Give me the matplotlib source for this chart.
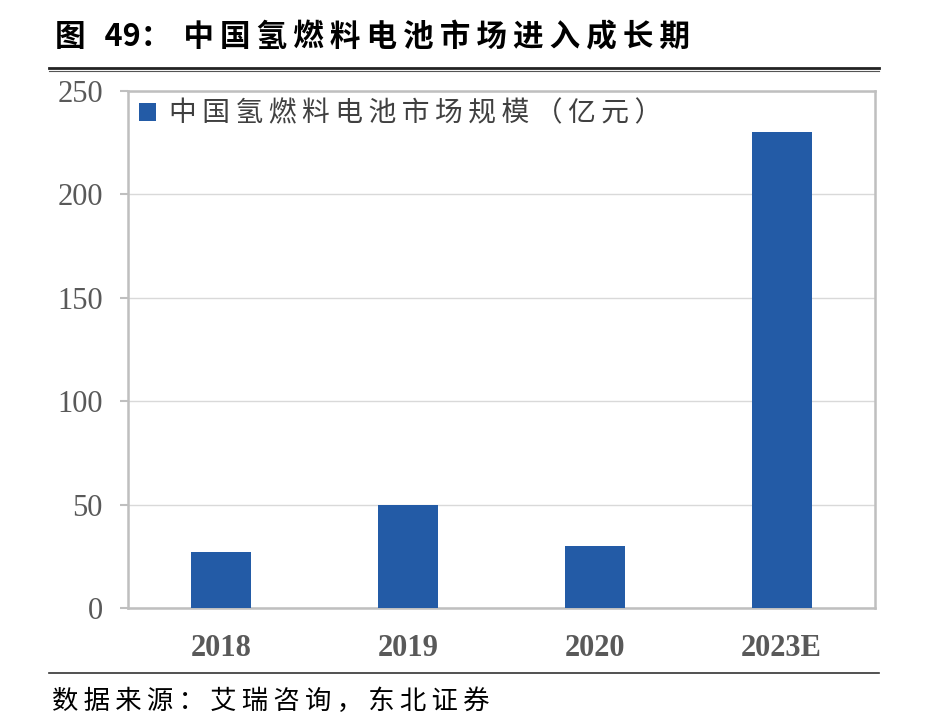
import matplotlib
matplotlib.use("Agg")
import matplotlib.pyplot as plt
from matplotlib.font_manager import FontProperties
from matplotlib.lines import Line2D

# ======================
# Data
# ======================
years = ["2018", "2019", "2020", "2023E"]
market_size = [27, 50, 30, 230]
y_ticks = [0, 50, 100, 150, 200, 250]

title_prefix = "图"
title_number = "49："
title_body = "中国氢燃料电池市场进入成长期"
legend_text = "中国氢燃料电池市场规模（亿元）"
source_text = "数据来源：艾瑞咨询，东北证券"

BAR_COLOR = "#235BA6"
FRAME_COLOR = "#BFBFBF"
GRID_COLOR = "#D9D9D9"
TICK_TEXT = "#595959"

CJK = ["Noto Sans CJK SC", "DejaVu Sans"]
THIN = "\u2009"


def spaced(s):
    # letter spacing like the original report
    return THIN.join(s)


# ======================
# Figure
# ======================
fig = plt.figure(figsize=(9.38, 7.24), dpi=100)
ax = fig.add_axes([128 / 938, 1 - 608 / 724, (875 - 128) / 938, (608 - 91) / 724])

x = range(len(years))
ax.bar(x, market_size, width=0.32, color=BAR_COLOR, zorder=3,
       label=spaced(legend_text))

ax.set_xlim(-0.5, len(years) - 0.5)
ax.set_ylim(0, 250)
ax.set_yticks(y_ticks)
ax.set_xticks(list(x))
ax.set_xticklabels(years)

ax.grid(axis="y", color=GRID_COLOR, linewidth=1.0, zorder=0)

for side in ["left", "right", "top", "bottom"]:
    ax.spines[side].set_color(FRAME_COLOR)
    ax.spines[side].set_linewidth(1.8)

ax.tick_params(axis="y", direction="out", length=6, width=1.5,
               color=FRAME_COLOR, pad=12, labelcolor=TICK_TEXT)
ax.tick_params(axis="x", length=0, pad=19, labelcolor=TICK_TEXT)

for lab in ax.get_yticklabels():
    lab.set_fontfamily("Liberation Serif")
    lab.set_fontsize(22)
for lab in ax.get_xticklabels():
    lab.set_fontfamily("Liberation Serif")
    lab.set_fontweight("bold")
    lab.set_fontsize(22)

leg = ax.legend(loc="upper left", bbox_to_anchor=(0.015, 0.985),
                frameon=False, prop=FontProperties(family=CJK, size=20),
                handlelength=0.62, handleheight=0.62, handletextpad=0.45,
                borderpad=0, borderaxespad=0)
for t in leg.get_texts():
    t.set_color("#404040")

# ======================
# Title, rules, source
# ======================
title = (title_prefix + " " + THIN * 2 + title_number + THIN * 2
         + spaced(title_body))
fig.text(55 / 938, 1 - 37.5 / 724, title, family=CJK,
         fontsize=22, fontweight="bold", va="center", ha="left", color="black")

fig.add_artist(Line2D([49 / 938, 879 / 938], [1 - 68 / 724] * 2,
                      color="#222222", linewidth=2.0))
fig.add_artist(Line2D([49 / 938, 879 / 938], [1 - 71 / 724] * 2,
                      color="#555555", linewidth=0.8))
fig.add_artist(Line2D([49 / 938, 879 / 938], [1 - 673 / 724] * 2,
                      color="#333333", linewidth=1.2))

fig.text(52 / 938, 1 - 701 / 724, spaced(source_text), family=CJK,
         fontsize=19, va="center", ha="left", color="black")

fig.savefig("out.png", dpi=100)
